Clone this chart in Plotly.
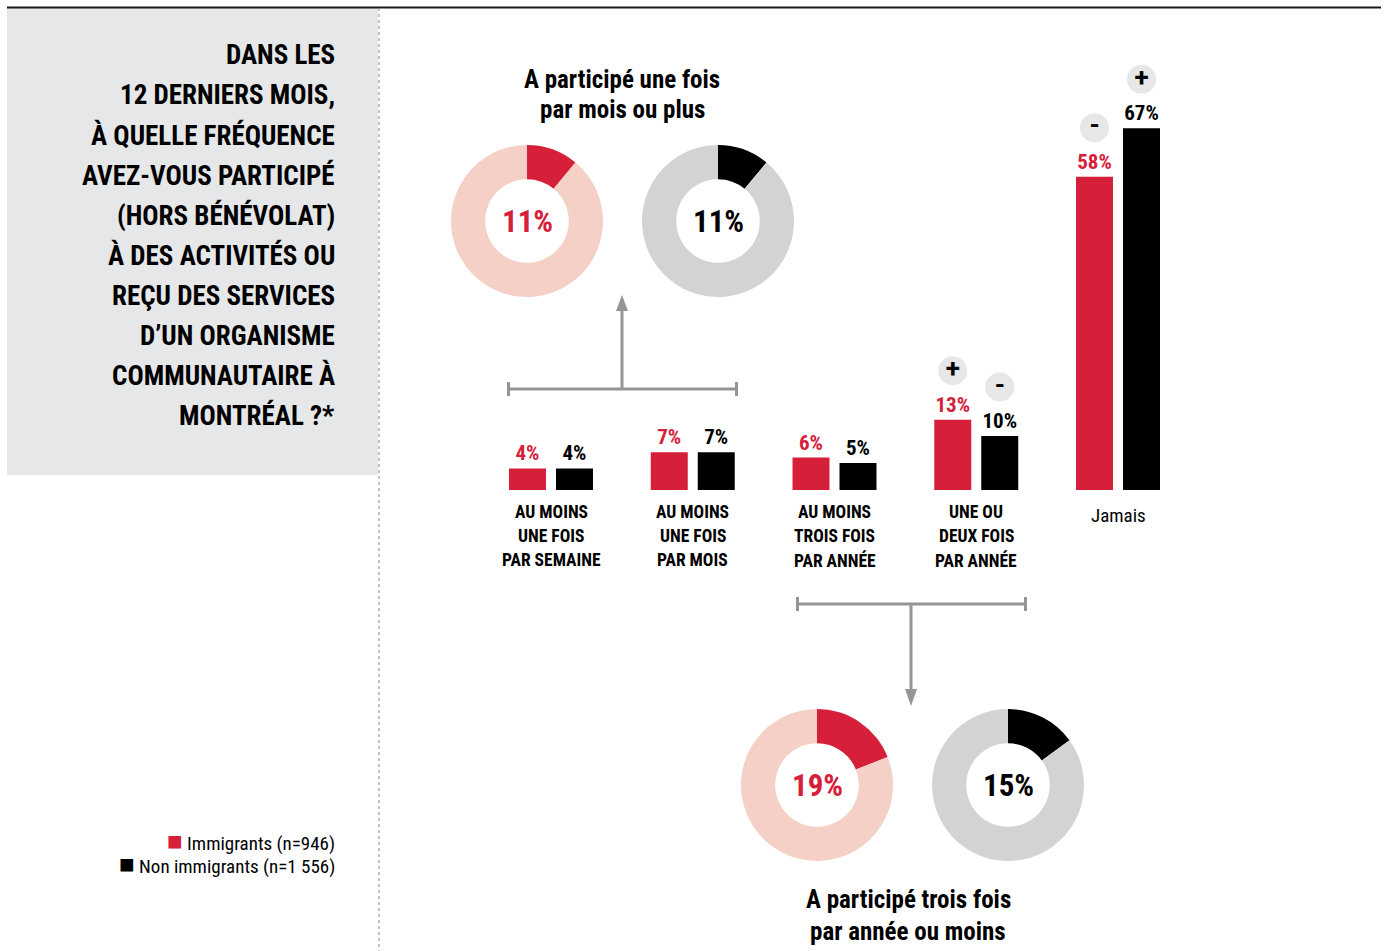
import plotly.graph_objects as go

# ---------------- data ----------------
categories = [
    ["AU MOINS", "UNE FOIS", "PAR SEMAINE"],
    ["AU MOINS", "UNE FOIS", "PAR MOIS"],
    ["AU MOINS", "TROIS FOIS", "PAR ANNÉE"],
    ["UNE OU", "DEUX FOIS", "PAR ANNÉE"],
    ["Jamais"],
]
immigrants = [4, 7, 6, 13, 58]
non_immigrants = [4, 7, 5, 10, 67]
sig_immigrants = ["", "", "", "+", "-"]
sig_non_immigrants = ["", "", "", "-", "+"]

donut_top_labels = ["A participé une fois", "par mois ou plus"]
donut_top_imm = 11
donut_top_non = 11
donut_bot_labels = ["A participé trois fois", "par année ou moins"]
donut_bot_imm = 19
donut_bot_non = 15

title_lines = ["DANS LES", "12 DERNIERS MOIS,", "À QUELLE FRÉQUENCE", "AVEZ-VOUS PARTICIPÉ",
               "(HORS BÉNÉVOLAT)", "À DES ACTIVITÉS OU", "REÇU DES SERVICES",
               "D’UN ORGANISME", "COMMUNAUTAIRE À", "MONTRÉAL ?*"]
legend_labels = ["Immigrants (n=946)", "Non immigrants (n=1 556)"]

# ---------------- style ----------------
W, H = 1389, 951
RED = "#d6203a"
PINK = "#f4d0c7"
GREY = "#d1d3d4"
PANEL = "#e6e7e8"
ARROW = "#939598"
FONT = "Roboto Condensed, Open Sans Condensed, sans-serif"

def PX(x):
    return x / W

def PY(y):
    return 1 - y / H

# bar scale: baseline pixel 490, 5.4 px per percent
BASE_PX, PX_PER_PCT = 490, 5.4
y_range = [(BASE_PX - H) / PX_PER_PCT, BASE_PX / PX_PER_PCT]
# category axis: group 0 at px 551, spacing 141.75 px
G0, GSTEP = 551, 141.75
x_range = [(0 - G0) / GSTEP, (W - G0) / GSTEP]
xs = list(range(len(categories)))

fig = go.Figure()

for vals, name, col in [(immigrants, legend_labels[0], RED), (non_immigrants, legend_labels[1], "black")]:
    fig.add_trace(go.Bar(
        x=xs, y=vals, name=name, marker=dict(color=col, line=dict(width=0)),
        text=[f"{v}%" for v in vals], textposition="outside", constraintext="none",
        textfont=dict(color=col, size=21, family=FONT, weight="bold"), cliponaxis=False,
        showlegend=False, hoverinfo="skip"))

# significance markers
off = 23.5 / GSTEP
SIG_UP = 49 / PX_PER_PCT
for vals, sigs, dx in [(immigrants, sig_immigrants, -off), (non_immigrants, sig_non_immigrants, off)]:
    sx, sy, st = [], [], []
    for i, (v, s) in enumerate(zip(vals, sigs)):
        if s:
            sx.append(i + dx)
            sy.append(v + SIG_UP)
            st.append("<b>+</b>" if s == "+" else "<b>-</b>")
    fig.add_trace(go.Scatter(
        x=sx, y=sy, mode="markers+text", text=st, textposition="middle center",
        marker=dict(size=29, color=PANEL, line=dict(width=0)),
        textfont=dict(size=26, color="black", family="Roboto, sans-serif"),
        cliponaxis=False, showlegend=False, hoverinfo="skip"))

# donuts
def donut(val, cx, cy, col, bg):
    r = 76
    fig.add_trace(go.Pie(
        values=[val, 100 - val], marker=dict(colors=[col, bg], line=dict(width=0)),
        hole=0.55, sort=False, direction="clockwise", rotation=0, textinfo="none",
        domain=dict(x=[PX(cx - r), PX(cx + r)], y=[PY(cy + r), PY(cy - r)]),
        showlegend=False, hoverinfo="skip"))
    fig.add_annotation(x=PX(cx), y=PY(cy), xref="paper", yref="paper", text=f"<b>{val}%</b>",
                       showarrow=False, font=dict(size=31, color=col, family=FONT),
                       xanchor="center", yanchor="middle")

donut(donut_top_imm, 527, 221, RED, PINK)
donut(donut_top_non, 718, 221, "black", GREY)
donut(donut_bot_imm, 817, 785, RED, PINK)
donut(donut_bot_non, 1008, 785, "black", GREY)

for i, line in enumerate(donut_top_labels):
    fig.add_annotation(x=PX(622), y=PY(79 + 31 * i), xref="paper", yref="paper", text=f"<b>{line}</b>",
                       showarrow=False, font=dict(size=25, color="black", family=FONT),
                       xanchor="center", yanchor="middle")
for i, line in enumerate(donut_bot_labels):
    fig.add_annotation(x=PX(908), y=PY(899 + 32 * i), xref="paper", yref="paper", text=f"<b>{line}</b>",
                       showarrow=False, font=dict(size=25, color="black", family=FONT),
                       xanchor="center", yanchor="middle")

# category labels
for i, lines in enumerate(categories):
    if len(lines) == 1:
        fig.add_annotation(x=i, y=(BASE_PX - 515) / PX_PER_PCT, xref="x", yref="y", text=lines[0],
                           showarrow=False, font=dict(size=19, color="black", family=FONT),
                           xanchor="center", yanchor="middle")
    else:
        for j, line in enumerate(lines):
            fig.add_annotation(x=i, y=(BASE_PX - (512 + 24 * j)) / PX_PER_PCT, xref="x", yref="y",
                               text=f"<b>{line}</b>", showarrow=False,
                               font=dict(size=17.5, color="black", family=FONT),
                               xanchor="center", yanchor="middle")

# title
for i, line in enumerate(title_lines):
    fig.add_annotation(x=PX(337), y=PY(55 + 40.1 * i), xref="paper", yref="paper", text=f"<b>{line}</b>",
                       showarrow=False, font=dict(size=27, color="black", family=FONT),
                       xanchor="right", yanchor="middle")

# legend
for i, (lab, col) in enumerate(zip(legend_labels, [RED, "black"])):
    fig.add_annotation(x=PX(337), y=PY(840.5 + 23.5 * i), xref="paper", yref="paper",
                       text=f"<span style='color:{col};font-size:26px'>■</span> {lab}",
                       showarrow=False, font=dict(size=19, color="black", family=FONT),
                       xanchor="right", yanchor="middle")

# decorations
shapes = []
def line(x0, y0, x1, y1, color, width, dash="solid"):
    shapes.append(dict(type="line", xref="paper", yref="paper", x0=PX(x0), y0=PY(y0), x1=PX(x1), y1=PY(y1),
                       line=dict(color=color, width=width, dash=dash), layer="below"))

shapes.append(dict(type="rect", xref="paper", yref="paper", x0=PX(7), x1=PX(378), y0=PY(475), y1=PY(8),
                   fillcolor=PANEL, line=dict(width=0), layer="below"))
line(7, 7.5, 1381, 7.5, "#1a1a1a", 2)
line(379, 8, 379, 951, "#8a8a8a", 1, "dot")

# top bracket
line(508, 389, 737, 389, ARROW, 3)
line(508.5, 382, 508.5, 396, ARROW, 3)
line(736.5, 382, 736.5, 396, ARROW, 3)
line(622, 389, 622, 308, ARROW, 3)
shapes.append(dict(type="path", xref="paper", yref="paper",
                   path=f"M {PX(616)},{PY(311)} L {PX(628)},{PY(311)} L {PX(622)},{PY(295)} Z",
                   fillcolor=ARROW, line=dict(width=0)))
# bottom bracket
line(797, 604, 1026, 604, ARROW, 3)
line(797.5, 597, 797.5, 611, ARROW, 3)
line(1025.5, 597, 1025.5, 611, ARROW, 3)
line(911, 604, 911, 692, ARROW, 3)
shapes.append(dict(type="path", xref="paper", yref="paper",
                   path=f"M {PX(905)},{PY(689)} L {PX(917)},{PY(689)} L {PX(911)},{PY(706)} Z",
                   fillcolor=ARROW, line=dict(width=0)))

fig.update_layout(
    width=W, height=H, margin=dict(l=0, r=0, t=0, b=0),
    paper_bgcolor="white", plot_bgcolor="rgba(0,0,0,0)",
    barmode="group", bargap=0.337, bargroupgap=0.213,
    xaxis=dict(range=x_range, visible=False, fixedrange=True),
    yaxis=dict(range=y_range, visible=False, fixedrange=True),
    shapes=shapes, showlegend=False,
)

fig.write_html("out.html", config={"displayModeBar": False},
               post_script="document.body.style.margin='0';document.body.style.overflow='hidden';")
